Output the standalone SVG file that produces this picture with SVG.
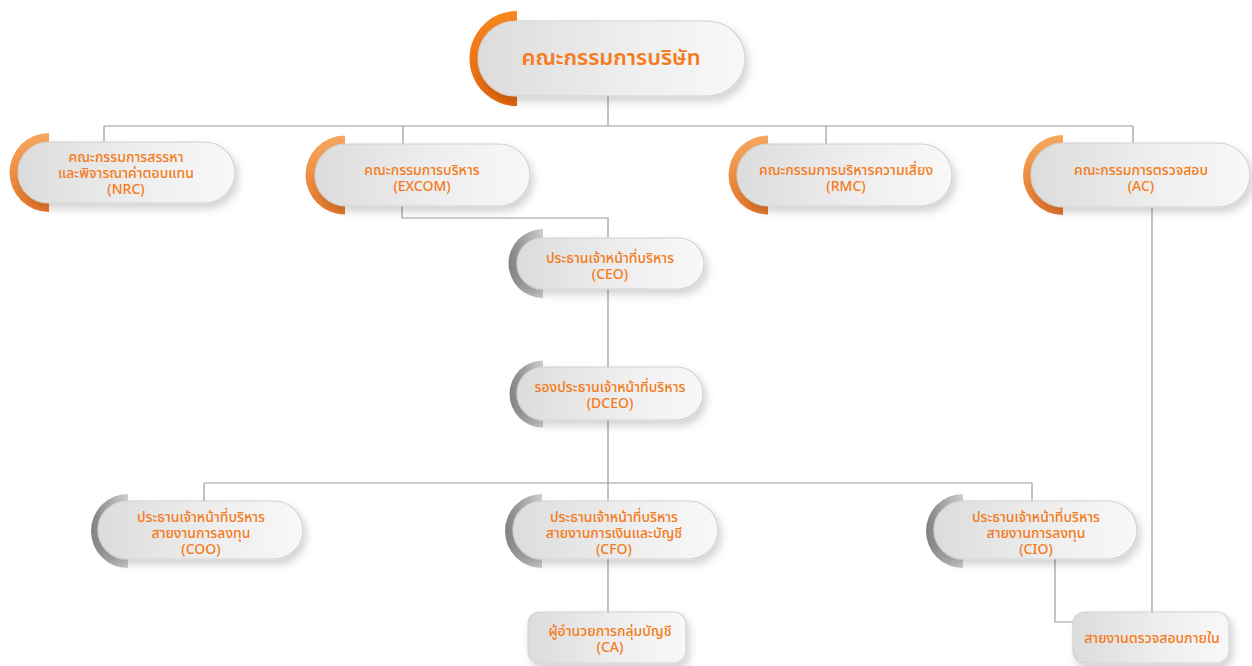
<svg xmlns="http://www.w3.org/2000/svg" width="1252" height="666" viewBox="0 0 1252 666">
<defs>
<linearGradient id="pillFill" x1="0" y1="0" x2="1" y2="0">
<stop offset="0" stop-color="#dcdcdc"/>
<stop offset="0.6" stop-color="#efefef"/>
<stop offset="1" stop-color="#f8f8f8"/>
</linearGradient>
<linearGradient id="orangeArc" x1="0" y1="0" x2="0" y2="1">
<stop offset="0" stop-color="#f6a85e"/>
<stop offset="1" stop-color="#e6772a"/>
</linearGradient>
<linearGradient id="orangeTop" x1="0" y1="0" x2="0" y2="1">
<stop offset="0" stop-color="#f7871f"/>
<stop offset="1" stop-color="#e4660c"/>
</linearGradient>
<linearGradient id="grayArc" x1="0" y1="0" x2="1" y2="0">
<stop offset="0" stop-color="#858080"/>
<stop offset="1" stop-color="#cfcdcd"/>
</linearGradient>
<filter id="shadow" x="-20%" y="-30%" width="140%" height="170%">
<feDropShadow dx="3" dy="5" stdDeviation="4" flood-color="#000" flood-opacity="0.18"/>
</filter>
</defs>
<style>
.pill{fill:url(#pillFill);stroke:#d2d2d2;stroke-width:1.2;filter:url(#shadow)}
.oarc{fill:url(#orangeArc)}
.garc{fill:url(#grayArc)}
.conn{fill:none;stroke:#9c9c9c;stroke-width:1.2}
.t{font-family:"Noto Sans Thai","Noto Sans","DejaVu Sans",sans-serif;fill:#f47b20;text-anchor:middle;font-size:14px;font-weight:500}
.tb{font-size:22px;font-weight:600}
</style>

<g id="connectors">
<path class="conn" d="M608,96 V126 M104,126 H1133 M104,126 V142 M403,126 V144 M826,126 V144 M1133,126 V143"/>
<path class="conn" d="M402,206 V218 H608 V238"/>
<path class="conn" d="M608,289 V367"/>
<path class="conn" d="M608,420 V483 M204,483 H1032 M204,483 V501 M608,483 V501 M1032,483 V501"/>
<path class="conn" d="M608,559 V612"/>
<path class="conn" d="M1152,207 V612"/>
<path class="conn" d="M1055,559 V622 H1073"/>
</g>

<g id="board">
<path fill="url(#orangeTop)" d="M517,11 A47.5,47.5 0 0 0 517,106 L517,94 A35.5,35.5 0 0 1 517,23 Z"/>
<rect class="pill" x="478" y="21" width="267" height="75" rx="37.5"/>
<text class="t tb" x="611" y="65">คณะกรรมการบริษัท</text>
</g>

<g id="nrc">
<path class="oarc" d="M49,133 A39.5,39.5 0 0 0 49,212 L49,202 A29.5,29.5 0 0 1 49,143 Z"/>
<rect class="pill" x="18" y="142" width="217" height="61" rx="30.5"/>
<text class="t" x="126" y="162">คณะกรรมการสรรหา</text>
<text class="t" x="126" y="178">และพิจารณาค่าตอบแทน</text>
<text class="t" x="126" y="194">(NRC)</text>
</g>

<g id="excom">
<path class="oarc" d="M345,135.5 A39.5,39.5 0 0 0 345,214.5 L345,204.5 A29.5,29.5 0 0 1 345,145.5 Z"/>
<rect class="pill" x="315" y="144" width="215" height="62" rx="31"/>
<text class="t" x="422" y="175">คณะกรรมการบริหาร</text>
<text class="t" x="422" y="191">(EXCOM)</text>
</g>

<g id="rmc">
<path class="oarc" d="M768,135.5 A39.5,39.5 0 0 0 768,214.5 L768,204.5 A29.5,29.5 0 0 1 768,145.5 Z"/>
<rect class="pill" x="737" y="144" width="215" height="62" rx="31"/>
<text class="t" x="846" y="175">คณะกรรมการบริหารความเสี่ยง</text>
<text class="t" x="846" y="191">(RMC)</text>
</g>

<g id="ac">
<path class="oarc" d="M1063,135 A40,40 0 0 0 1063,215 L1063,205 A30,30 0 0 1 1063,145 Z"/>
<rect class="pill" x="1031" y="143" width="219" height="64" rx="32"/>
<text class="t" x="1141" y="175">คณะกรรมการตรวจสอบ</text>
<text class="t" x="1141" y="191">(AC)</text>
</g>

<g id="ceo">
<path class="garc" d="M543,229 A34.5,34.5 0 0 0 543,298 L543,289 A25.5,25.5 0 0 1 543,238 Z"/>
<rect class="pill" x="517" y="238" width="187" height="51" rx="25.5"/>
<text class="t" x="610" y="263">ประธานเจ้าหน้าที่บริหาร</text>
<text class="t" x="610" y="279">(CEO)</text>
</g>

<g id="dceo">
<path class="garc" d="M543,360.5 A33.5,33.5 0 0 0 543,427.5 L543,420 A26,26 0 0 1 543,368 Z"/>
<rect class="pill" x="517" y="367" width="186" height="53" rx="26.5"/>
<text class="t" x="610" y="392">รองประธานเจ้าหน้าที่บริหาร</text>
<text class="t" x="610" y="408">(DCEO)</text>
</g>

<g id="coo">
<path class="garc" d="M128,494 A37,37 0 0 0 128,568 L128,559 A28,28 0 0 1 128,503 Z"/>
<rect class="pill" x="98" y="501" width="205" height="58" rx="29"/>
<text class="t" x="201" y="522">ประธานเจ้าหน้าที่บริหาร</text>
<text class="t" x="201" y="538">สายงานการลงทุน</text>
<text class="t" x="201" y="554">(COO)</text>
</g>

<g id="cfo">
<path class="garc" d="M542,494 A37,37 0 0 0 542,568 L542,559 A28,28 0 0 1 542,503 Z"/>
<rect class="pill" x="513" y="501" width="205" height="58" rx="29"/>
<text class="t" x="614" y="522">ประธานเจ้าหน้าที่บริหาร</text>
<text class="t" x="614" y="538">สายงานการเงินและบัญชี</text>
<text class="t" x="614" y="554">(CFO)</text>
</g>

<g id="cio">
<path class="garc" d="M963,494 A37,37 0 0 0 963,568 L963,559 A28,28 0 0 1 963,503 Z"/>
<rect class="pill" x="934" y="501" width="203" height="58" rx="29"/>
<text class="t" x="1036" y="522">ประธานเจ้าหน้าที่บริหาร</text>
<text class="t" x="1036" y="538">สายงานการลงทุน</text>
<text class="t" x="1036" y="554">(CIO)</text>
</g>

<g id="ca">
<rect class="pill" x="528" y="612" width="158" height="51" rx="12"/>
<text class="t" x="610" y="636">ผู้อำนวยการกลุ่มบัญชี</text>
<text class="t" x="610" y="652">(CA)</text>
</g>

<g id="audit">
<rect class="pill" x="1073" y="612" width="156" height="51" rx="12"/>
<text class="t" x="1152" y="643">สายงานตรวจสอบภายใน</text>
</g>
</svg>
